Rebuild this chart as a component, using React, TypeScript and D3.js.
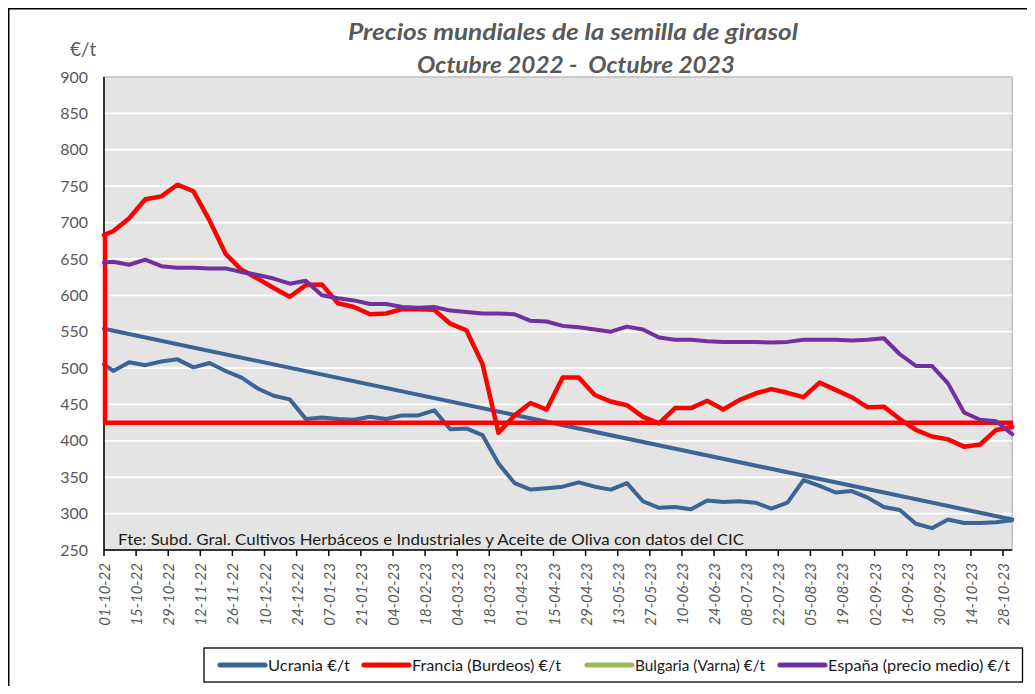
import React from "react";
import * as d3 from "d3";

// fechas: 01-10-22 y luego cada miércoles desde 05-10-22 hasta 01-11-23
const fechaInicio = new Date(Date.UTC(2022, 9, 1));
const primerMiercoles = new Date(Date.UTC(2022, 9, 5));
const fechaFin = new Date(Date.UTC(2023, 10, 1));
const fechas: Date[] = [fechaInicio, ...d3.range(57).map((k) => d3.utcDay.offset(primerMiercoles, 7 * k))];

// etiquetas del eje x cada 14 días
const fechasEje: Date[] = d3.range(29).map((i) => d3.utcDay.offset(fechaInicio, 14 * i));

const ucrania = [
  505, 496, 508, 504, 509, 512, 501, 507, 496, 487, 472,
  462, 457, 430, 432, 430, 429, 433, 430, 435, 435,
  442, 416, 417, 408, 369, 342, 333, 335, 337, 343,
  337, 333, 342, 317, 308, 309, 306, 318, 316, 317,
  315, 307, 315, 346, 338, 329, 331, 322, 309, 305,
  286, 280, 292, 287, 287, 288, 291,
];

const francia = [
  683, 688, 706, 732, 736, 752, 743, 703, 657, 635, 623,
  610, 598, 614, 615, 589, 584, 574, 575, 581, 581,
  580, 561, 552, 506, 411, 435, 452, 443, 487, 487,
  463, 454, 449, 433, 424, 445, 445, 455, 443, 456,
  465, 471, 466, 460, 480, 470, 460, 446, 447, 430,
  415, 406, 402, 392, 395, 415, 419,
];

const espana = [
  645, 646, 642, 649, 640, 638, 638, 637, 637, 632, 628,
  623, 616, 620, 600, 596, 593, 588, 588, 584, 583,
  584, 579, 577, 575, 575, 574, 565, 564, 558, 556,
  553, 550, 557, 553, 542, 539, 539, 537, 536, 536,
  536, 535, 536, 539, 539, 539, 538, 539, 541, 519,
  503, 503, 479, 439, 429, 427, 409,
];

// línea de tendencia de Ucrania (inicio, fin)
const tendenciaUcrania = [554, 292];
// trazo rojo de cierre: sube por el eje y recorre 425 €/t
const cierreFechas = [fechaInicio, fechaInicio, fechaFin];
const cierreFrancia = [683, 425, 425];

const yTicks = [250, 300, 350, 400, 450, 500, 550, 600, 650, 700, 750, 800, 850, 900];

const leyenda = [
  { nombre: "Ucrania €/t", color: "#3A6596", x: 212, ancho: 82 },
  { nombre: "Francia (Burdeos) €/t", color: "#FF0000", x: 356, ancho: 149 },
  { nombre: "Bulgaria (Varna) €/t", color: "#9BBB59", x: 579, ancho: 130 },
  { nombre: "España (precio medio) €/t", color: "#7030A0", x: 772, ancho: 182 },
];

const FONT = "Lato, 'Open Sans', sans-serif";
const GRIS = "#595959";

export default function App() {
  // coordenadas dentro del svg (que empieza en 8,8 de la página)
  const left = 96, right = 1004.2, top = 69, bottom = 542;
  const x = d3.scaleUtc().domain([fechaInicio, fechaFin]).range([left, right]);
  const y = d3.scaleLinear().domain([250, 900]).range([bottom, top]);
  const fmt = d3.utcFormat("%d-%m-%y");

  const linea = d3
    .line<number>()
    .x((_, i) => x(fechas[i]))
    .y((d) => y(d));

  const lineaCierre = d3
    .line<number>()
    .x((_, i) => x(cierreFechas[i]))
    .y((d) => y(d));

  const lineaTendencia = d3
    .line<number>()
    .x((_, i) => x(i === 0 ? fechaInicio : fechaFin))
    .y((d) => y(d));

  return (
    <svg width={1019} height={678} style={{ display: "block" }} fontFamily={FONT}>
      <rect x={0} y={0} width={1019} height={678} fill="#fff" />
      <rect x={0.75} y={0.75} width={1200} height={800} fill="none" stroke="#000" strokeWidth={1.5} />

      <text x={565} y={32} textAnchor="middle" fontSize={23} fontWeight="bold" fontStyle="italic" fill={GRIS}
        textLength={450} lengthAdjust="spacingAndGlyphs">
        Precios mundiales de la semilla de girasol
      </text>
      <text x={568} y={65} textAnchor="middle" fontSize={23} fontWeight="bold" fontStyle="italic" fill={GRIS}
        textLength={318} lengthAdjust="spacingAndGlyphs" style={{ whiteSpace: "pre" }}>
        Octubre 2022 -  Octubre 2023
      </text>

      <text x={62} y={48} fontSize={19} fill={GRIS}>€/t</text>

      {/* área de trazado */}
      <rect x={left} y={top} width={right - left} height={bottom - top} fill="#E4E4E4" stroke="#BFBFBF" strokeWidth={1.5} />
      {yTicks.map((t) => (
        <g key={t}>
          {t > 250 && t < 900 && (
            <line x1={left} x2={right} y1={y(t)} y2={y(t)} stroke="#fff" strokeWidth={1.8} />
          )}
          <text x={80} y={y(t)} dy="0.35em" textAnchor="end" fontSize={16} fill={GRIS}>{t}</text>
        </g>
      ))}

      <text x={110} y={537} fontSize={15} fill="#1a1a1a" textLength={626} lengthAdjust="spacingAndGlyphs">
        Fte: Subd. Gral. Cultivos Herbáceos e Industriales y Aceite de Oliva con datos del CIC
      </text>

      {/* eje y bajo las series */}
      <line x1={left} x2={left} y1={top} y2={bottom} stroke="#000" strokeWidth={1.5} />

      {/* series */}
      <g fill="none" strokeLinejoin="round" strokeLinecap="round">
        <path d={lineaTendencia(tendenciaUcrania) || ""} stroke="#3A6596" strokeWidth={4} />
        <path d={linea(ucrania) || ""} stroke="#3A6596" strokeWidth={4} />
        <path d={lineaCierre(cierreFrancia) || ""} stroke="#FF0000" strokeWidth={4.5} strokeLinecap="butt"
          transform="translate(1,0)" />
        <path d={linea(francia) || ""} stroke="#FF0000" strokeWidth={4.5} />
        <path d={linea(espana) || ""} stroke="#7030A0" strokeWidth={4} />
      </g>

      {/* eje x */}
      <line x1={left} x2={right} y1={bottom} y2={bottom} stroke="#000" strokeWidth={1.5} />
      {fechasEje.map((d) => (
        <g key={d.getTime()} transform={`translate(${x(d)},${bottom})`}>
          <line y1={0} y2={6} stroke="#000" strokeWidth={1.5} />
          <text transform="rotate(-90)" x={-13} dy="0.4em" textAnchor="end" fontSize={15} fontStyle="italic" fill={GRIS}>
            {fmt(d)}
          </text>
        </g>
      ))}

      {/* leyenda */}
      <rect x={196} y={640} width={818.5} height={34} fill="#fff" stroke="#000" strokeWidth={1.3} />
      {leyenda.map((l) => (
        <g key={l.nombre} transform={`translate(${l.x},657)`}>
          <line x1={0} x2={45} stroke={l.color} strokeWidth={5} strokeLinecap="round" />
          <text x={48} dy="0.35em" fontSize={16} fill="#1a1a1a" textLength={l.ancho} lengthAdjust="spacingAndGlyphs">
            {l.nombre}
          </text>
        </g>
      ))}
    </svg>
  );
}
